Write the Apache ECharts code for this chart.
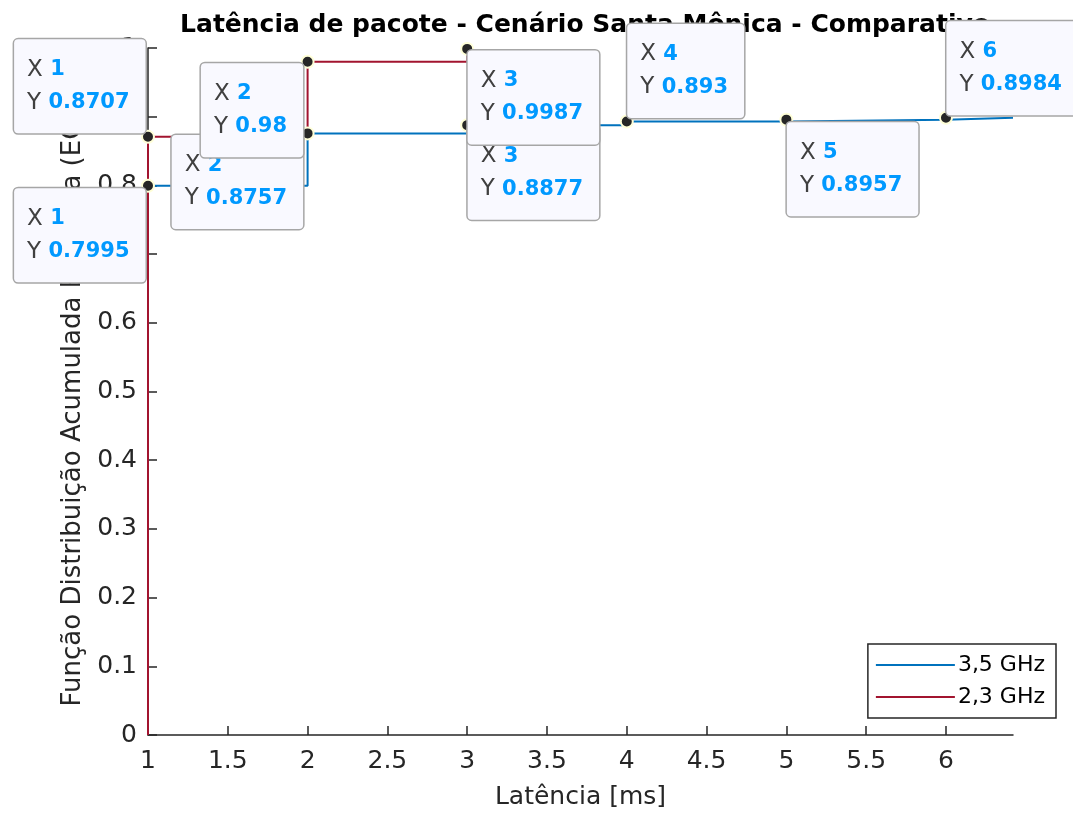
<!DOCTYPE html>
<html>
<head>
<meta charset="utf-8">
<script src="https://cdn.jsdelivr.net/npm/echarts@6/dist/echarts.min.js"></script>
<style>
html,body{margin:0;padding:0;background:#fff;}
#chart{width:1073px;height:816px;}
</style>
</head>
<body>
<div id="chart"></div>
<script>
// ---- data ----
const titleText = 'Latência de pacote - Cenário Santa Mônica - Comparativo';
const xAxisName = 'Latência [ms]';
const yAxisName = 'Função Distribuição Acumulada Empírica (ECDF)';
const seriesNames = ['3,5 GHz', '2,3 GHz'];
const latency35 = [1, 2, 3, 4, 5, 6];
const cdf35 = [0.7995, 0.8757, 0.8877, 0.893, 0.8957, 0.8984];
const latency23 = [1, 2, 3];
const cdf23 = [0.8707, 0.98, 0.9987];
const xMin = 1, xMax = 6.42;
const xTicks = [1, 1.5, 2, 2.5, 3, 3.5, 4, 4.5, 5, 5.5, 6];
const yTicks = [0, 0.1, 0.2, 0.3, 0.4, 0.5, 0.6, 0.7, 0.8, 0.9, 1];

// ---- layout (datatip placement, per point: [dx, dy, align, verticalAlign]) ----
const tipPlace35 = [
  [4.5, 9.5, 'right', 'top'],
  [2.5, 8.5, 'right', 'top'],
  [7.5, 7.5, 'left', 'top'],
  [7.5, 3.5, 'left', 'bottom'],
  [7.5, 9.5, 'left', 'top'],
  [7.5, 4.5, 'left', 'bottom']
];
const tipPlace23 = [
  [4.5, 3.5, 'right', 'bottom'],
  [2.5, 8.5, 'right', 'top'],
  [7.5, 8.5, 'left', 'top']
];

const C35 = '#0072BD', C23 = '#A2142F';
const FONT = "'DejaVu Sans', Verdana, sans-serif";
const AX = '#262626';

function stairs(xs, ys, endX) {
  const d = [[xs[0], 0]];
  for (let i = 0; i < xs.length; i++) d.push([xs[i], ys[i]]);
  if (endX !== undefined) d.push([endX, ys[ys.length - 1]]);
  return d;
}

function tips(xs, ys, place) {
  return xs.map((x, i) => ({
    value: [x, ys[i]],
    label: {
      position: [place[i][0], place[i][1]],
      align: place[i][2],
      verticalAlign: place[i][3]
    }
  }));
}

const tipLabel = {
  show: true,
  formatter: p => '{k|X }{v|' + p.value[0] + '}\n{k|Y }{v|' + p.value[1] + '}',
  backgroundColor: '#F9F9FF',
  borderColor: '#A6A6A6',
  borderWidth: 1.5,
  borderRadius: 4,
  padding: [14, 16, 14, 13],
  lineHeight: 33,
  opacity: 1,
  rich: {
    k: { fontFamily: FONT, fontSize: 23, color: '#404040', lineHeight: 33, align: 'left' },
    v: { fontFamily: FONT, fontSize: 21, fontWeight: 'bold', color: '#0099FF', lineHeight: 33, align: 'left' }
  }
};

const tipSymbol = {
  symbol: 'circle',
  symbolSize: 12,
  itemStyle: { color: '#262626', borderColor: '#FFFFD8', borderWidth: 2, opacity: 1 }
};

const chart = echarts.init(document.getElementById('chart'), null, { renderer: 'canvas' });
chart.setOption({
  backgroundColor: '#ffffff',
  animation: false,
  title: {
    text: titleText,
    left: 580,
    textAlign: 'center',
    top: 8,
    z: 0,
    textStyle: { fontFamily: FONT, fontSize: 25, fontWeight: 'bold', color: '#000' }
  },
  grid: { left: 148, right: 60, top: 48, bottom: 81, containLabel: false },
  legend: {
    orient: 'vertical',
    right: 17,
    top: 644,
    data: seriesNames,
    icon: 'rect',
    itemWidth: 79,
    itemHeight: 2,
    itemGap: 10,
    padding: [10, 11, 10, 8],
    borderColor: '#262626',
    borderWidth: 1.5,
    backgroundColor: '#fff',
    textStyle: { fontFamily: FONT, fontSize: 22, color: '#000', padding: [0, 0, 0, -2] },
    z: 1
  },
  xAxis: {
    type: 'value',
    min: xMin,
    max: xMax,
    name: xAxisName,
    nameLocation: 'middle',
    nameGap: 50,
    nameTextStyle: { fontFamily: FONT, fontSize: 25, color: AX },
    axisLine: { show: true, lineStyle: { color: AX, width: 1.5 } },
    axisTick: { show: true, inside: true, length: 9, customValues: xTicks, lineStyle: { color: AX, width: 1.5 } },
    axisLabel: { customValues: xTicks, margin: 14, fontFamily: FONT, fontSize: 25, color: AX },
    splitLine: { show: false }
  },
  yAxis: {
    type: 'value',
    min: 0,
    max: 1,
    interval: 0.1,
    name: yAxisName,
    nameLocation: 'middle',
    nameGap: 53,
    nameTextStyle: { fontFamily: FONT, fontSize: 26, color: AX },
    axisLine: { show: true, lineStyle: { color: AX, width: 1.5 } },
    axisTick: { show: true, inside: true, length: 9, customValues: yTicks, lineStyle: { color: AX, width: 1.5 } },
    axisLabel: { customValues: yTicks, margin: 11, fontFamily: FONT, fontSize: 25, color: AX },
    splitLine: { show: false }
  },
  series: [
    {
      name: seriesNames[0],
      type: 'line',
      step: 'end',
      data: stairs(latency35, cdf35, xMax),
      showSymbol: false,
      lineStyle: { color: C35, width: 2 },
      itemStyle: { color: C35 },
      z: 2
    },
    {
      name: seriesNames[1],
      type: 'line',
      step: 'end',
      data: stairs(latency23, cdf23),
      showSymbol: false,
      lineStyle: { color: C23, width: 2 },
      itemStyle: { color: C23 },
      z: 3
    },
    Object.assign({
      name: 'tips35',
      type: 'scatter',
      data: tips(latency35, cdf35, tipPlace35),
      label: tipLabel,
      z: 5,
      silent: true
    }, tipSymbol),
    Object.assign({
      name: 'tips23',
      type: 'scatter',
      data: tips(latency23, cdf23, tipPlace23),
      label: tipLabel,
      z: 6,
      silent: true
    }, tipSymbol)
  ]
});
</script>
</body>
</html>
